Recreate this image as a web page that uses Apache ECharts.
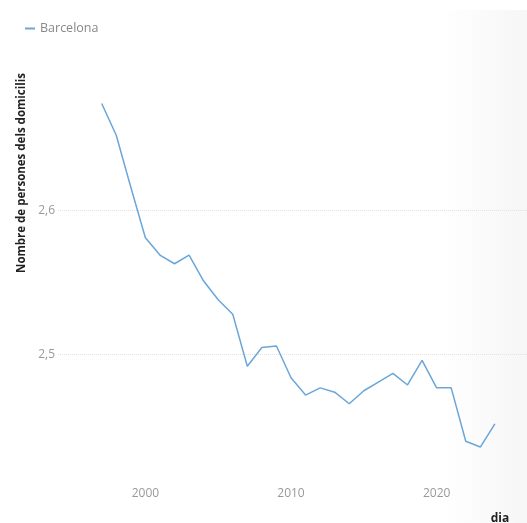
<!DOCTYPE html>
<html>
<head>
<meta charset="utf-8">
<script src="https://cdn.jsdelivr.net/npm/echarts@6/dist/echarts.min.js"></script>
<style>
html,body{margin:0;padding:0;background:#fff;}
#chart{width:527px;height:523px;}
</style>
</head>
<body>
<div id="chart"></div>
<script>
const years = [1997,1998,1999,2000,2001,2002,2003,2004,2005,2006,2007,2008,2009,2010,2011,2012,2013,2014,2015,2016,2017,2018,2019,2020,2021,2022,2023,2024];
const barcelona = [2.674,2.652,2.616,2.581,2.569,2.563,2.569,2.551,2.538,2.528,2.492,2.505,2.506,2.484,2.472,2.477,2.474,2.466,2.475,2.481,2.487,2.479,2.496,2.477,2.477,2.440,2.436,2.452];
const xTickLabels = [2000, 2010, 2020];
const seriesName = 'Barcelona';
const yTitle = 'Nombre de persones dels domicilis';
const xTitle = 'dia';

const FONT = "'Open Sans', 'Noto Sans', sans-serif";
const chart = echarts.init(document.getElementById('chart'), null, {renderer: 'canvas'});
chart.setOption({
  animation: false,
  backgroundColor: '#fff',
  textStyle: {fontFamily: FONT},
  graphic: [
    {type: 'rect', left: 440, top: 10, z: -10, silent: true,
     shape: {width: 87, height: 513},
     style: {fill: new echarts.graphic.LinearGradient(0,0,1,0,[{offset:0,color:'rgba(246,246,246,0)'},{offset:1,color:'rgba(246,246,246,1)'}])}},
    {type: 'text', x: 21.5, y: 173, rotation: Math.PI/2,
     style: {text: yTitle, font: "bold 11.5px 'Open Sans', sans-serif", fill: '#222', align: 'center', verticalAlign: 'middle'}},
    {type: 'text', x: 500, y: 519,
     style: {text: xTitle, font: "bold 12px 'Open Sans', sans-serif", fill: '#222', align: 'center', verticalAlign: 'middle'}}
  ],
  legend: {
    left: 20, top: 17,
    icon: 'rect', itemWidth: 10, itemHeight: 2, itemGap: 10,
    textStyle: {color: '#888', fontSize: 12.5, fontFamily: FONT},
    data: [seriesName]
  },
  grid: {left: 58, right: 0, top: 66, bottom: 24, containLabel: false},
  xAxis: {
    type: 'value', min: 1994, max: 2026.2, interval: 1, offset: -19,
    axisLine: {show: false}, axisTick: {show: false}, splitLine: {show: false},
    axisLabel: {color: '#999', fontSize: 12, margin: 8, showMaxLabel: false,
      formatter: v => xTickLabels.indexOf(v) >= 0 ? String(v) : ''}
  },
  yAxis: {
    type: 'value', min: 2.4, max: 2.7, interval: 0.1,
    axisLine: {show: false}, axisTick: {show: false},
    splitLine: {show: true, showMinLine: false, showMaxLine: false, lineStyle: {type: 'dotted', color: '#e2e2e2', width: 1}},
    axisLabel: {color: '#999', fontSize: 12, margin: 3, showMinLabel: false, showMaxLabel: false,
      formatter: v => v.toFixed(1).replace('.', ',')}
  },
  series: [{
    name: seriesName, type: 'line',
    data: years.map((y, i) => [y, barcelona[i]]),
    showSymbol: false, symbol: 'none',
    lineStyle: {color: '#6ba6d8', width: 1.5},
    itemStyle: {color: '#6ba6d8'}
  }]
});
</script>
</body>
</html>
